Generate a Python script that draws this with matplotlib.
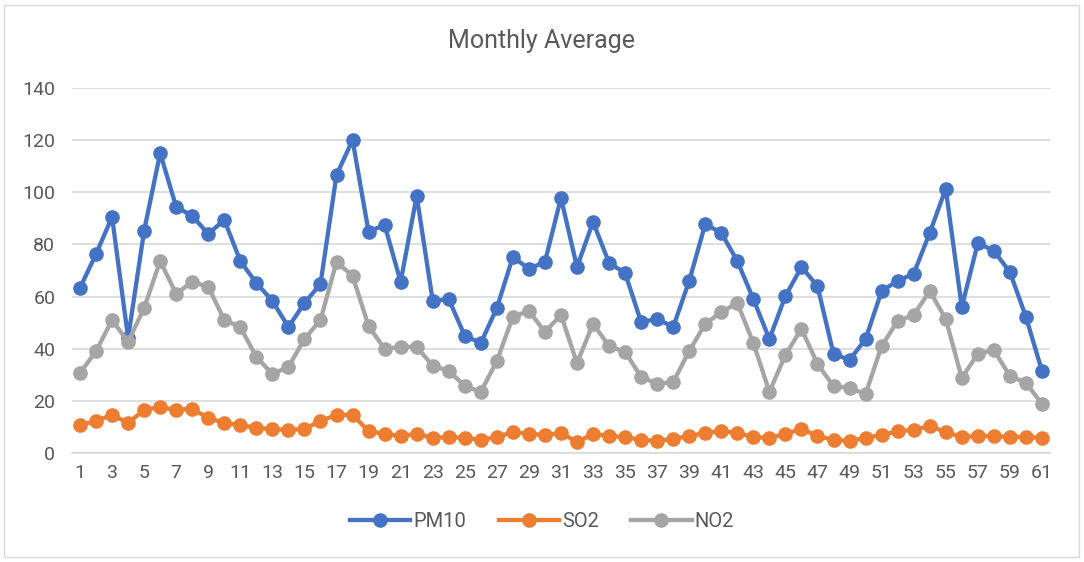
import matplotlib
matplotlib.use("Agg")
import matplotlib.pyplot as plt
from matplotlib.patches import Rectangle

# Mjesečni prosjeci (vrijednosti očitane s grafa)
mjeseci = list(range(1, 62))

pm10 = [63.3, 76.3, 90.5, 44.1, 85.2, 115.0, 94.4, 90.9, 84.0, 89.4,
        73.6, 65.2, 58.3, 48.3, 57.5, 64.8, 106.6, 120.0, 84.8, 87.5,
        65.6, 98.6, 58.3, 59.0, 44.9, 42.2, 55.6, 75.2, 70.6, 73.3,
        97.8, 71.3, 88.6, 72.9, 69.0, 50.2, 51.4, 48.3, 66.0, 87.8,
        84.4, 73.6, 59.0, 43.7, 60.2, 71.3, 64.0, 38.0, 35.7, 43.7,
        62.1, 66.0, 68.7, 84.4, 101.3, 56.0, 80.5, 77.5, 69.4, 52.2,
        31.5]

so2 = [10.7, 12.3, 14.6, 11.5, 16.5, 17.6, 16.5, 16.9, 13.4, 11.5,
       10.7, 9.6, 9.2, 8.8, 9.2, 12.3, 14.6, 14.6, 8.4, 7.3,
       6.5, 7.3, 5.8, 6.1, 5.8, 5.0, 6.1, 8.0, 7.3, 6.9,
       7.7, 4.2, 7.3, 6.5, 6.1, 5.0, 4.6, 5.4, 6.5, 7.7,
       8.4, 7.7, 6.1, 5.8, 7.3, 9.2, 6.5, 5.0, 4.6, 5.8,
       6.9, 8.4, 8.8, 10.4, 8.0, 6.1, 6.5, 6.5, 6.1, 6.1,
       5.8]

no2 = [30.7, 39.0, 51.0, 42.6, 55.6, 73.6, 61.0, 65.6, 63.7, 51.0,
       48.3, 36.8, 30.3, 33.0, 43.7, 51.0, 73.3, 67.9, 48.7, 39.9,
       40.7, 40.7, 33.4, 31.5, 25.7, 23.4, 35.3, 52.2, 54.5, 46.4,
       52.9, 34.5, 49.5, 41.0, 38.7, 29.2, 26.5, 27.2, 39.1, 49.5,
       54.0, 57.5, 42.2, 23.4, 37.6, 47.6, 34.1, 25.7, 24.9, 22.6,
       41.0, 50.6, 52.9, 62.1, 51.4, 28.8, 38.0, 39.5, 29.5, 26.9,
       18.8]

serije = [("PM10", pm10, "#4472C4"),
          ("SO2", so2, "#ED7D31"),
          ("NO2", no2, "#A5A5A5")]

plt.rcParams['font.family'] = ['Roboto', 'DejaVu Sans']

fig = plt.figure(figsize=(10.84, 5.62), dpi=100)
fig.patches.append(Rectangle((4 / 1084, 5 / 562), 1075 / 1084, 552 / 562,
                             transform=fig.transFigure, fill=False,
                             edgecolor="#D9D9D9", linewidth=1))
ax = fig.add_axes([0.0664, 0.194, 0.9022, 0.6496])

for naziv, vrijednosti, boja in serije:
    ax.plot(mjeseci, vrijednosti, color=boja, linewidth=3.1, marker="o",
            markersize=9.5, label=naziv, solid_joinstyle="round")

ax.set_xlim(0.5, 61.5)
ax.set_ylim(0, 140)
ax.set_yticks(range(0, 141, 20))
ax.set_xticks(mjeseci[::2])
ax.tick_params(axis="both", length=0, labelsize=14, colors="#595959")
ax.tick_params(axis="x", pad=8)
ax.tick_params(axis="y", pad=12)
ax.grid(axis="y", color="#D9D9D9", linewidth=1.2)
ax.set_axisbelow(True)
for strana in ["top", "right", "left"]:
    ax.spines[strana].set_visible(False)
ax.spines["bottom"].set_color("#D9D9D9")
ax.spines["bottom"].set_linewidth(1.2)

fig.text(0.5, 0.927, "Monthly Average", ha="center", va="center",
         fontsize=18, color="#595959")

fig.legend(loc="center", bbox_to_anchor=(0.5, 0.072), ncol=3, frameon=False,
           fontsize=14.5, labelcolor="#595959", handlelength=3.0,
           columnspacing=1.6, handletextpad=0.15)

fig.savefig("out.png", dpi=100)
